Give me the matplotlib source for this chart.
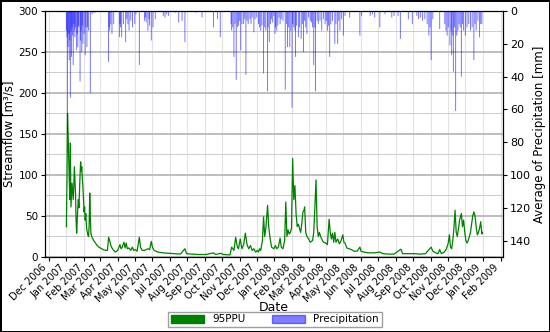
import numpy as np
import pandas as pd
import matplotlib
matplotlib.use("Agg")
import matplotlib.pyplot as plt
import matplotlib.dates as mdates
from matplotlib.patches import Patch

# === Data (day = days since 2007-01-01) ===
START = pd.Timestamp("2007-01-01")

flow_day = [0, 1, 2, 3, 4, 5, 6, 7, 8, 9, 10, 11, 12, 13, 14, 15, 16, 17, 18, 19,
            20, 21, 22, 23, 24, 25, 26, 27, 28, 29, 30, 31, 32, 33, 34, 35, 36, 37, 38, 39,
            40, 41, 42, 43, 44, 45, 48, 51, 54, 57, 62, 66, 72, 73, 74, 75, 76, 78, 80, 83,
            86, 90, 94, 96, 98, 101, 103, 105, 107, 110, 113, 116, 118, 121, 124, 128, 130, 133, 137, 140,
            143, 146, 149, 151, 154, 160, 170, 180, 190, 200, 208, 211, 220, 232, 245, 258, 262, 271, 275, 287,
            290, 294, 297, 300, 302, 305, 308, 311, 314, 317, 320, 323, 326, 329, 332, 335, 337, 339, 341, 344,
            346, 348, 350, 353, 355, 357, 360, 364, 367, 369, 372, 375, 377, 380, 383, 385, 387, 389, 391, 393,
            395, 397, 399, 401, 403, 405, 407, 409, 411, 413, 415, 417, 418, 420, 422, 425, 428, 432, 434, 436,
            438, 440, 442, 444, 446, 448, 451, 455, 458, 461, 463, 465, 467, 469, 471, 473, 476, 479, 482, 485,
            487, 489, 492, 496, 500, 505, 510, 515, 517, 522, 530, 540, 550, 555, 565, 575, 587, 590, 600, 610,
            620, 630, 640, 643, 648, 652, 655, 658, 663, 667, 670, 672, 674, 676, 678, 680, 682, 684, 686, 688,
            690, 693, 695, 697, 699, 701, 703, 705, 707, 709, 711, 713, 715, 717, 719, 721, 723, 725, 727, 729,
            730]
flow_val = [37, 90, 175, 150, 120, 95, 70, 139, 61, 75, 90, 80, 70, 85, 110, 95, 78, 45, 29, 45,
            60, 70, 60, 80, 100, 116, 105, 110, 95, 86, 70, 55, 61, 45, 53, 40, 33, 29, 26, 25,
            40, 78, 50, 29, 26, 24, 20, 17, 14, 12, 10, 8.5, 8, 15, 24, 22, 20, 14, 11, 8,
            6, 8, 15, 10, 12, 18, 11, 17, 10, 11, 8, 12, 8, 9, 7, 24, 12, 8, 8, 9,
            10, 9, 19, 12, 8, 6, 5, 4.5, 4, 3.5, 10, 4, 3.5, 3, 3, 5, 3, 4.5, 3, 2.5,
            12, 8, 24, 12, 10, 22, 10, 15, 29, 15, 10, 14, 8, 10, 6, 8, 6, 10, 8, 20,
            49, 25, 35, 63, 37, 25, 12, 10, 14, 10, 12, 23, 12, 10, 20, 67, 25, 33, 28, 30,
            35, 120, 70, 87, 53, 37, 40, 35, 30, 40, 55, 57, 61, 30, 25, 22, 18, 20, 30, 60,
            94, 37, 25, 30, 25, 22, 18, 17, 15, 46, 30, 22, 29, 18, 30, 18, 22, 16, 20, 27,
            18, 17, 11, 10, 9, 7, 7, 12, 7, 6, 5, 5, 6, 4, 3.5, 3.5, 9.5, 4, 4, 4,
            3.5, 4, 12, 7, 5, 4, 9, 4, 6, 10, 17, 27, 12, 10, 20, 35, 57, 30, 25, 35,
            45, 53, 37, 45, 30, 20, 17, 20, 25, 30, 40, 50, 55, 50, 37, 27, 30, 35, 43, 28,
            30]

rain_day = [0, 1, 2, 3, 4, 5, 6, 7, 8, 9, 10, 11, 12, 13, 14, 15, 16, 18, 19, 20,
            21, 22, 24, 25, 26, 27, 28, 29, 31, 33, 34, 36, 37, 39, 42, 45, 48, 50,
            74, 75, 76, 78, 80, 83, 93, 94, 95, 97, 100, 104, 106, 108, 110, 113, 116, 120,
            122, 128, 137, 139, 140, 143, 145, 146, 149, 152, 156,
            170, 173, 176, 179, 191, 197, 203, 208, 228, 238, 258, 265, 270,
            289, 290, 292, 294, 296, 298, 300, 302, 304, 306, 308, 311, 313, 315, 317, 319,
            322, 324, 326, 329, 331, 334, 337, 339, 341, 343, 346, 348, 350, 353, 354, 356,
            358, 360, 362, 364,
            366, 367, 369, 371, 373, 375, 377, 380, 384, 386, 388, 390, 392, 394, 396, 397,
            399, 401, 402, 404, 407, 409, 412, 414, 416, 418, 420, 422, 425, 428, 430, 432,
            434, 436, 437, 440, 442, 445, 448, 451, 454, 456, 458, 460, 462, 464, 467, 471,
            473, 476, 478, 480, 483, 486, 489, 497, 515, 518, 533, 537, 541, 550, 559, 571,
            575, 582, 586, 600, 607, 615, 618, 621, 625, 629, 633, 636, 638, 640, 643, 655,
            664, 666, 668, 670, 673, 675, 676, 678, 679, 681, 683, 685, 687, 689, 691, 693,
            695, 697, 700, 703, 706, 709, 712, 715, 717, 719, 722, 725, 727, 729]
rain_mm = [12, 16, 75, 22, 14, 30, 18, 53, 12, 28, 10, 15, 33, 8, 12, 16, 10, 24, 14, 22,
           9, 10, 43, 18, 12, 25, 9, 20, 14, 27, 10, 22, 10, 12, 50, 2, 1, 1,
           31, 10, 12, 8, 14, 8, 16, 8, 10, 16, 8, 19, 5, 8, 12, 6, 10, 8,
           2, 33, 6, 4, 7, 12, 5, 9, 18, 10, 5,
           3, 4, 2, 3, 1, 7, 6, 19, 1, 4, 10, 5, 16,
           8, 12, 10, 28, 8, 42, 10, 9, 6, 24, 8, 8, 5, 39, 6, 8,
           5, 8, 4, 13, 5, 4, 8, 10, 12, 9, 38, 10, 12, 49, 10, 19,
           8, 5, 7, 3,
           14, 10, 12, 9, 4, 8, 5, 6, 48, 8, 22, 10, 22, 12, 59, 8,
           10, 12, 28, 9, 16, 10, 17, 8, 25, 6, 10, 14, 4, 6, 7, 10,
           33, 10, 49, 6, 8, 6, 12, 5, 8, 6, 12, 9, 28, 8, 6, 20,
           8, 20, 6, 12, 5, 15, 3, 4, 15, 3, 3, 2, 4, 10, 2, 4,
           3, 3, 17, 5, 8, 3, 5, 4, 6, 5, 8, 15, 10, 30, 5, 11,
           8, 12, 15, 10, 21, 12, 27, 15, 37, 10, 61, 15, 12, 8, 10, 40,
           8, 12, 15, 10, 8, 12, 10, 30, 8, 12, 6, 16, 8, 8]

flow_dates = START + pd.to_timedelta(flow_day, unit="D")
rain_dates = START + pd.to_timedelta(rain_day, unit="D")

# === Figure ===
fig = plt.figure(figsize=(5.5, 3.32), dpi=100)
fig.patch.set_edgecolor("black")
fig.patch.set_linewidth(2)
ax = fig.add_axes([0.082, 0.226, 0.833, 0.741])

ax.plot(flow_dates, flow_val, color="green", lw=0.9, zorder=3)
ax.set_ylim(0, 300)
ax.set_yticks(np.arange(0, 301, 50))
ax.set_yticks(np.arange(25, 300, 50), minor=True)
ax.grid(axis="y", which="major", color="#b8b8b8", lw=1.3)
ax.grid(axis="y", which="minor", color="#cccccc", lw=0.7)
ax.grid(axis="x", which="major", color="#e2e2e2", lw=0.8)
ax.tick_params(axis="y", which="minor", length=0)
ax.set_axisbelow(True)

ax.xaxis.set_major_locator(mdates.MonthLocator())
ax.xaxis.set_major_formatter(mdates.DateFormatter("%b %Y"))
for lab in ax.get_xticklabels():
    lab.set_rotation(45)
    lab.set_ha("right")
ax.tick_params(axis="x", labelsize=7, pad=1, length=3)
ax.tick_params(axis="y", labelsize=7.5, pad=2, length=3)
ax.set_ylabel("Streamflow [m³/s]", fontsize=8.5, labelpad=2)
ax.set_xlabel("Date", fontsize=9, labelpad=-2)

# precipitation hanging from the top on an inverted second axis
ax2 = ax.twinx()
bars = ax2.bar(rain_dates, rain_mm, width=1.6, color="blue", alpha=0.58,
               linewidth=0, align="center")
for b in bars:
    b.set_snap(False)
ax2.set_ylim(150, 0)
ax2.set_yticks(np.arange(0, 141, 20))
ax2.tick_params(axis="y", labelsize=8, pad=2, length=3)
ax2.set_ylabel("Average of Precipitation [mm]", fontsize=8.5, labelpad=1)

handles = [Patch(color="green", label="95PPU"),
           Patch(color="blue", alpha=0.5, label="Precipitation")]
fig.legend(handles=handles, loc="lower center", bbox_to_anchor=(0.5, 0.0),
           ncol=2, fontsize=7.5, frameon=True, handlelength=3.2,
           handleheight=0.8, columnspacing=2.5, borderpad=0.25,
           fancybox=False, edgecolor="#888888")

fig.savefig("out.png", dpi=100, edgecolor=fig.get_edgecolor())
